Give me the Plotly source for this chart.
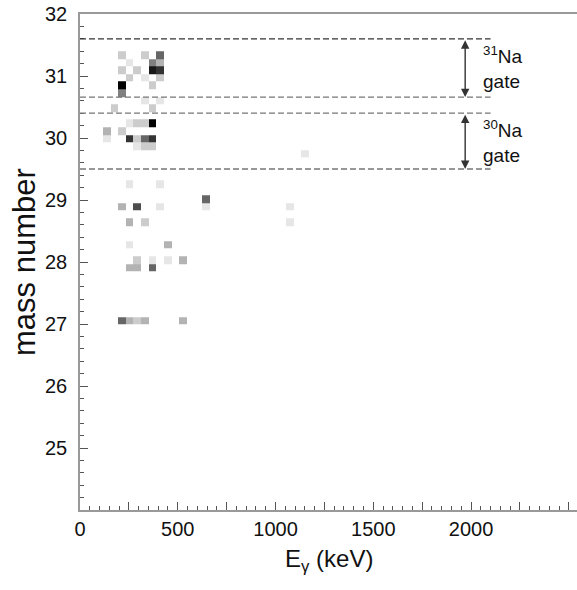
import plotly.graph_objects as go

# ---- data: gamma energy (keV), mass number, counts per cell ----
cell_energy = [
    214.5, 331.5, 409.5,
    253.5, 370.5, 409.5,
    214.5, 292.5, 370.5, 409.5,
    253.5, 331.5, 409.5,
    214.5, 370.5,
    214.5,
    331.5, 409.5,
    175.5, 370.5,
    253.5, 292.5, 331.5, 370.5,
    136.5, 214.5,
    136.5, 253.5, 292.5, 331.5, 370.5,
    292.5, 331.5, 370.5,
    1150.5,
    253.5, 409.5,
    643.5,
    214.5, 292.5, 409.5, 643.5, 1072.5,
    253.5, 331.5, 1072.5,
    253.5, 448.5,
    292.5, 370.5, 448.5, 526.5,
    253.5, 292.5, 370.5,
    214.5, 253.5, 292.5, 331.5, 526.5,
]
cell_mass = [
    31.339, 31.339, 31.339,
    31.217, 31.217, 31.217,
    31.094, 31.094, 31.094, 31.094,
    30.972, 30.972, 30.972,
    30.849, 30.849,
    30.727,
    30.604, 30.604,
    30.482, 30.482,
    30.237, 30.237, 30.237, 30.237,
    30.114, 30.114,
    29.992, 29.992, 29.992, 29.992, 29.992,
    29.869, 29.869, 29.869,
    29.747,
    29.257, 29.257,
    29.012,
    28.889, 28.889, 28.889, 28.889, 28.889,
    28.644, 28.644, 28.644,
    28.277, 28.277,
    28.032, 28.032, 28.032, 28.032,
    27.909, 27.909, 27.909,
    27.052, 27.052, 27.052, 27.052, 27.052,
]
cell_counts = [
    2, 2, 6,
    1, 5, 3,
    2, 2, 9, 8,
    2, 1, 2,
    10, 2,
    5,
    1, 1,
    2, 2,
    1, 2, 2, 10,
    3, 2,
    1, 8, 2, 6, 8,
    1, 2, 2,
    1,
    1, 1,
    6,
    3, 7, 1, 1, 1,
    3, 2, 1,
    1, 3,
    2, 1, 1, 3,
    3, 3, 6,
    6, 3, 2, 3, 3,
]

x_tickvals = [0, 250, 500, 750, 1000, 1250, 1500, 1750, 2000, 2250, 2500]
x_ticktext = ["0", "", "500", "", "1000", "", "1500", "", "2000", "", ""]
y_ticks = [25, 26, 27, 28, 29, 30, 31, 32]
gate_lines = [31.6, 30.66, 30.4, 29.5]
gate_colors = ["#333333", "#777777", "#777777", "#777777"]
gates = [(31.6, 30.66, "<sup>31</sup>Na<br>gate"), (30.4, 29.5, "<sup>30</sup>Na<br>gate")]
gate_line_end = 2100
arrow_x = 1970
label_x = 2050

FONT = "Liberation Sans, Arial, Helvetica, sans-serif"

fig = go.Figure()
fig.add_trace(go.Histogram2d(
    x=cell_energy, y=cell_mass, z=cell_counts, histfunc="sum",
    xbins=dict(start=0, end=2535, size=39),
    ybins=dict(start=23.4375, end=32.0, size=0.1225),
    colorscale=[[0, "#ffffff"], [1, "#000000"]],
    zmin=0, zmax=10, showscale=False, hoverinfo="skip",
))

for yv, col in zip(gate_lines, gate_colors):
    fig.add_shape(type="line", x0=0, x1=gate_line_end, y0=yv, y1=yv,
                  xref="x", yref="y",
                  line=dict(color=col, width=1.3, dash="6px,3px"))

for ytop, ybot, txt in gates:
    fig.add_annotation(x=arrow_x, y=ybot, ax=arrow_x, ay=ytop,
                       xref="x", yref="y", axref="x", ayref="y",
                       text="", showarrow=True, arrowhead=2, startarrowhead=2,
                       arrowside="end+start", arrowsize=1.2, arrowwidth=1.4,
                       arrowcolor="#333333", standoff=0, startstandoff=0)
    fig.add_annotation(x=label_x, y=(ytop + ybot) / 2, xref="x", yref="y",
                       text=txt, showarrow=False, xanchor="left", yanchor="middle",
                       align="left", font=dict(family=FONT, size=19, color="#111"))

fig.add_annotation(x=0, y=0.5, xref="paper", yref="paper", xshift=-56,
                   text="mass number", textangle=-90, showarrow=False,
                   xanchor="center", yanchor="middle",
                   font=dict(family=FONT, size=31, color="#111"))
fig.add_annotation(x=0.5, y=0, xref="paper", yref="paper", yshift=-50,
                   text="E<sub>γ</sub> (keV)", showarrow=False,
                   xanchor="center", yanchor="middle",
                   font=dict(family=FONT, size=24, color="#111"))

fig.update_xaxes(range=[0, 2542], tickvals=x_tickvals, ticktext=x_ticktext,
                 ticks="inside", ticklen=8,
                 tickcolor="#555", tickwidth=1, showline=True, linecolor="#999",
                 linewidth=1.5, mirror=True, showgrid=False, zeroline=False,
                 automargin=False,
                 tickfont=dict(family=FONT, size=20, color="#111"),
                 minor=dict(dtick=50, ticks="inside", ticklen=4, tickcolor="#555",
                            showgrid=False))
fig.update_yaxes(range=[24, 32], tickvals=y_ticks, ticks="inside", ticklen=8,
                 tickcolor="#555", tickwidth=1, showline=True, linecolor="#999",
                 linewidth=1.5, mirror=False, showgrid=False, zeroline=False,
                 automargin=False, ticklabelstandoff=7,
                 tickfont=dict(family=FONT, size=20, color="#111"),
                 minor=dict(dtick=0.2, ticks="inside", ticklen=4, tickcolor="#555",
                            showgrid=False))

fig.update_layout(width=577, height=590,
                  margin=dict(l=80, r=0, t=14, b=80),
                  plot_bgcolor="white", paper_bgcolor="white",
                  showlegend=False)

# remove the browser's default 8px page margin so the figure fills the window
fig.write_html("out.html", config={"displayModeBar": False},
               post_script="document.body.style.margin='0';")
